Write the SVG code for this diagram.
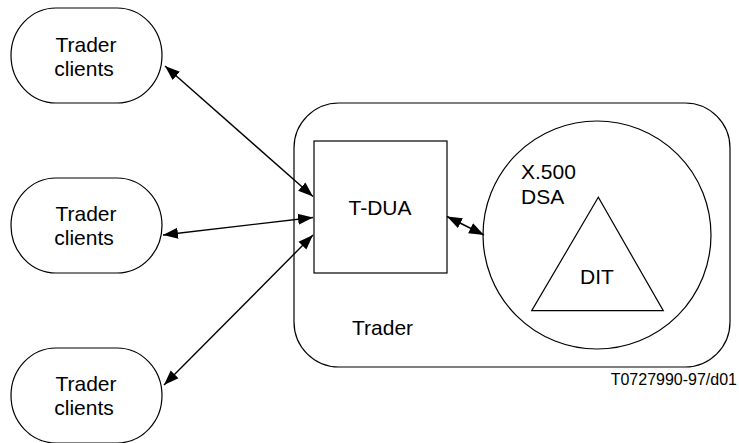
<svg xmlns="http://www.w3.org/2000/svg" width="739" height="443" viewBox="0 0 739 443">
<style>
.s{fill:none;stroke:#000;stroke-width:1.2}
.t{font-family:"Liberation Sans",Arial,sans-serif;font-size:21px;fill:#000}
.c{text-anchor:middle}
.a{fill:none;stroke:#000;stroke-width:1.4;marker-start:url(#ah);marker-end:url(#ah)}
</style>
<defs>
<marker id="ah" markerUnits="userSpaceOnUse" markerWidth="16" markerHeight="12" refX="15" refY="5.5" orient="auto-start-reverse" viewBox="0 0 16 11">
<path d="M0,0 L15,5.5 L0,11 z" fill="#000"/>
</marker>
</defs>
<rect width="739" height="443" fill="#fff"/>
<g id="trader">
<rect class="s" x="294" y="103" width="436" height="264" rx="45" ry="45"/>
<text class="t" x="352" y="335">Trader</text>
</g>
<g id="client1">
<rect class="s" x="11" y="8" width="151" height="95" rx="45" ry="47.5"/>
<text class="t c" x="86" y="52">Trader</text>
<text class="t c" x="84" y="76">clients</text>
</g>
<g id="client2">
<rect class="s" x="11" y="178" width="151" height="95" rx="45" ry="47.5"/>
<text class="t c" x="86" y="221">Trader</text>
<text class="t c" x="84" y="245">clients</text>
</g>
<g id="client3">
<rect class="s" x="11" y="348" width="151" height="95" rx="45" ry="47.5"/>
<text class="t c" x="86" y="391">Trader</text>
<text class="t c" x="84" y="415">clients</text>
</g>
<g id="tdua">
<rect class="s" x="314" y="141" width="133" height="132"/>
<text class="t c" x="380" y="215">T-DUA</text>
</g>
<g id="dsa">
<circle class="s" cx="597" cy="235" r="114"/>
<text class="t" x="521" y="179">X.500</text>
<text class="t" x="521" y="204">DSA</text>
</g>
<g id="dit">
<polygon class="s" points="598.3,197.3 531.7,310.7 663.3,310.7"/>
<text class="t c" x="597" y="284">DIT</text>
</g>
<g id="connectors">
<line class="a" x1="165" y1="66" x2="313" y2="196.5"/>
<line class="a" x1="163" y1="235" x2="313" y2="217.5"/>
<line class="a" x1="164" y1="385" x2="313" y2="235"/>
<line class="a" x1="447" y1="216.5" x2="484" y2="235"/>
</g>
<text class="t" style="font-size:16px;text-anchor:end" x="737" y="385">T0727990-97/d01</text>
</svg>
